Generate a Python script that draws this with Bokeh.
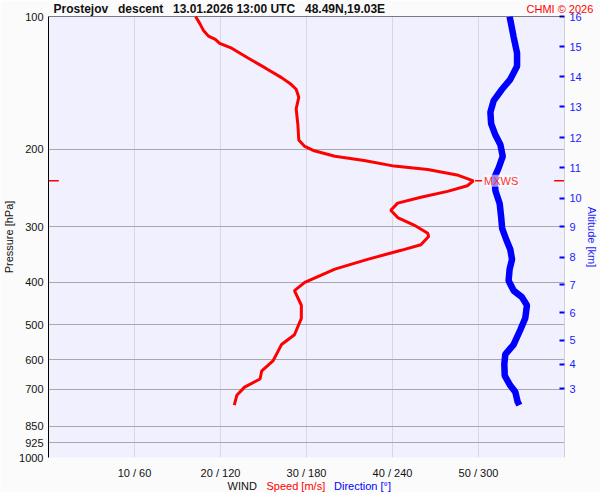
from bokeh.plotting import figure
from bokeh.models import Range1d, LinearAxis, FixedTicker, NumeralTickFormatter, Label, Span, Title
from bokeh.embed import file_html
from bokeh.resources import INLINE

FONT = "Liberation Sans"

# ---- data ----
speed_pressure = [100, 103.8, 107.4, 110.8, 112.7, 115.0, 118.0, 124.2, 130.8, 137.6,
                  142.5, 146.2, 152.5, 161.9, 176.4, 190.5, 197.1, 201.6, 207.5, 212.2,
                  218.4, 222.3, 228.7, 235.9, 242.0, 249.2, 257.0, 265.0, 275.1, 285.7,
                  297.1, 310.2, 315.5, 329.2, 339.0, 355.4, 374.1, 400.9, 418.3, 451.6,
                  483.5, 526.7, 554.5, 573.9, 604.1, 635.9, 663.6, 692.5, 722.8, 760.7]
speed = [17.1, 17.6, 18.0, 18.6, 19.4, 19.9, 21.3, 23.2, 25.2, 27.1,
         28.2, 28.8, 29.1, 28.8, 29.0, 29.1, 29.8, 30.9, 33.3, 36.7,
         40.2, 44.1, 47.5, 49.4, 48.7, 46.4, 43.3, 40.6, 39.8, 40.6,
         42.5, 44.1, 44.2, 43.3, 41.0, 37.1, 33.3, 29.8, 28.6, 29.4,
         29.4, 28.6, 27.1, 26.7, 26.1, 24.8, 24.6, 22.8, 21.9, 21.6]

dir_pressure = [100, 103.8, 111.2, 121.1, 129.7, 138.8, 146.2, 155.2, 164.7, 174.9,
                185.7, 195.4, 207.5, 220.3, 231.9, 248.3, 265.9, 284.7, 302.2, 320.8,
                337.7, 355.4, 374.1, 397.3, 418.3, 432.8, 451.6, 483.5, 513.3, 554.5,
                583.6, 614.3, 652.5, 686.8, 710.6, 747.5, 760.7]
direction = [321.7, 322.7, 324.5, 326.9, 326.9, 322.2, 316.4, 310.6, 308.3, 308.8,
             311.8, 315.3, 316.9, 314.1, 311.1, 311.8, 314.8, 315.8, 316.5, 319.4,
             322.2, 323.4, 321.7, 321.0, 324.5, 330.3, 333.8, 332.6, 329.2, 324.5,
             318.7, 318.0, 318.3, 322.2, 325.7, 327.3, 328.5]

pressure_ticks = [100, 200, 300, 400, 500, 600, 700, 850, 925, 1000]
speed_ticks = [10, 20, 30, 40, 50]
dir_ticks = [60, 120, 180, 240, 300]
altitude_km = [16, 15, 14, 13, 12, 11, 10, 9, 8, 7, 6, 5, 4, 3]
altitude_pressure = [100.0, 117.0, 136.9, 160.1, 188.2, 220.3, 258.2, 299.6,
                     351.3, 406.1, 469.9, 542.3, 614.0, 698.5]

title_parts = ["Prostejov", "descent", "13.01.2026 13:00 UTC", "48.49N,19.03E"]
title_x = [50, 114.5, 169.5, 301.5]          # left edge of each part (px)
footer_parts = ["WIND", "Speed [m/s]", "Direction [°]"]
footer_x = [224, 263, 330.5]
footer_colors = ["#111111", "#ff0000", "#0000ff"]

# ---- layout constants (px) ----
FRAME_LEFT, FRAME_TOP = 45, 16

p = figure(frame_width=516, frame_height=441,
           min_border_left=FRAME_LEFT, min_border_right=31, min_border_top=FRAME_TOP,
           min_border_bottom=35,
           x_range=Range1d(0, 60), y_range=Range1d(1000, 100), y_axis_type="log",
           output_backend="svg", toolbar_location=None)
p.extra_x_ranges = {"dir": Range1d(0, 360)}
p.background_fill_color = "#f0f0ff"
p.border_fill_color = "#fbfbfb"
p.outline_line_color = None

# left pressure axis
ya = p.left[0]
ya.ticker = FixedTicker(ticks=pressure_ticks)
ya.formatter = NumeralTickFormatter(format="0")
ya.major_tick_out = 0
ya.major_tick_in = 0
ya.minor_tick_line_color = None
ya.major_label_standoff = 5
ya.axis_line_color = "black"
ya.major_label_text_font = FONT
ya.major_label_text_font_size = "11px"
ya.major_label_text_color = "#111111"
ya.axis_label = "Pressure [hPa]"
ya.axis_label_standoff = 1
ya.axis_label_text_font = FONT
ya.axis_label_text_font_size = "11px"
ya.axis_label_text_font_style = "normal"
ya.axis_label_text_color = "#111111"

# bottom wind axis
xa = p.below[0]
xa.ticker = FixedTicker(ticks=speed_ticks)
xa.major_label_overrides = {s: f"{s} / {d}" for s, d in zip(speed_ticks, dir_ticks)}
xa.axis_line_color = None
xa.major_tick_line_color = None
xa.major_tick_out = 0
xa.major_tick_in = 0
xa.minor_tick_line_color = None
xa.major_label_standoff = 9
xa.major_label_text_font = FONT
xa.major_label_text_font_size = "11px"
xa.major_label_text_color = "#111111"

# right altitude axis
ra = LinearAxis(ticker=FixedTicker(ticks=altitude_pressure))
ra.major_label_overrides = {pr: str(km) for pr, km in zip(altitude_pressure, altitude_km)}
ra.major_tick_in = 5
ra.major_tick_out = 0
ra.major_tick_line_color = "#0000ff"
ra.major_tick_line_width = 2
ra.minor_tick_line_color = None
ra.axis_line_color = "#d0d0dc"
ra.major_label_standoff = 5
ra.major_label_text_font = FONT
ra.major_label_text_font_size = "11px"
ra.major_label_text_color = "#1a1aff"
ra.axis_label = "Altitude [km]"
ra.axis_label_standoff = 1
ra.axis_label_text_font = FONT
ra.axis_label_text_font_size = "11px"
ra.axis_label_text_font_style = "normal"
ra.axis_label_text_color = "#1a1aff"
p.add_layout(ra, "right")

# grids
p.xgrid[0].ticker = FixedTicker(ticks=speed_ticks + [60])
p.xgrid[0].grid_line_color = "#d8d8e0"
p.ygrid[0].ticker = FixedTicker(ticks=pressure_ticks)
p.ygrid[0].grid_line_color = "#a8a8a8"
p.add_layout(Span(location=100, dimension="width", line_color="black", line_width=1))

# profiles
p.line(speed, speed_pressure, line_color="#ff0000", line_width=3)
p.line(direction, dir_pressure, line_color="#0000ff", line_width=6.5, x_range_name="dir")

# max wind marker
i_max = max(range(len(speed)), key=lambda i: speed[i])
s_max, p_max = speed[i_max], speed_pressure[i_max]
p.segment(x0=[0, 58.8, s_max + 0.2], y0=[p_max] * 3, x1=[1.2, 60, s_max + 1.0], y1=[p_max] * 3,
          line_color="#ff0000", line_width=1.5)
p.add_layout(Label(x=s_max + 1.25, y=p_max, text="MXWS", text_color="#ff3030",
                   text_font=FONT, text_font_size="11px", text_baseline="middle",
                   background_fill_color="white", background_fill_alpha=0.55))


def free_text(txt, left_px, top_px=None, bottom_px=None, size="11px", bold=False, color="#111111"):
    """Zero-height title in the top panel, positioned by offset / negative standoff."""
    if top_px is not None:
        va, st = "top", 2 * (top_px - FRAME_TOP)
    else:
        va, st = "bottom", -2 * (bottom_px - FRAME_TOP)
    p.add_layout(Title(text=txt, align="left", offset=left_px - FRAME_LEFT, vertical_align=va,
                       standoff=st, text_font=FONT, text_font_size=size,
                       text_font_style="bold" if bold else "normal", text_color=color), "above")


for txt, x in zip(title_parts, title_x):
    free_text(txt, x, top_px=1.6, size="12px", bold=True)
free_text("CHMI © 2026", 523, top_px=2.5, color="#ff0000")
for txt, x, c in zip(footer_parts, footer_x, footer_colors):
    free_text(txt, x, bottom_px=491.5, color=c)

open("out.html", "w").write(file_html(p, INLINE))
